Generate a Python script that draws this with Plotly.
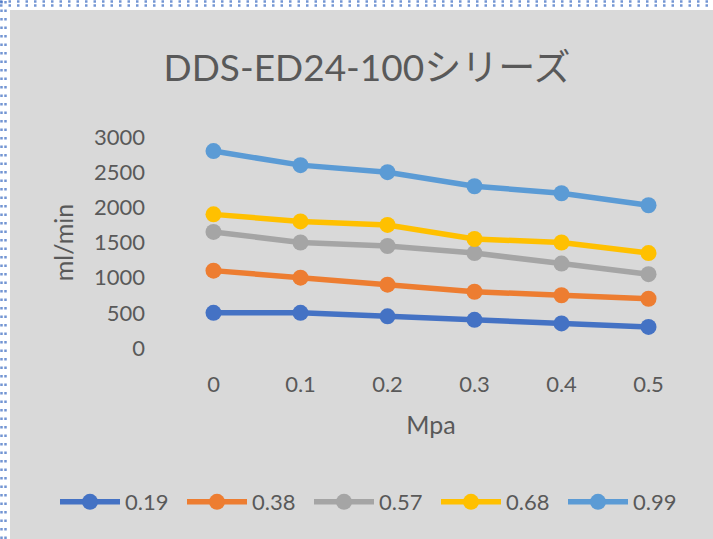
import plotly.graph_objects as go

pressure = ["0", "0.1", "0.2", "0.3", "0.4", "0.5"]
series_names = ["0.19", "0.38", "0.57", "0.68", "0.99"]
flow_019 = [500, 500, 450, 400, 350, 300]
flow_038 = [1100, 1000, 900, 800, 750, 700]
flow_057 = [1650, 1500, 1450, 1350, 1200, 1050]
flow_068 = [1900, 1800, 1750, 1550, 1500, 1350]
flow_099 = [2800, 2600, 2500, 2300, 2200, 2030]
colors = ["#4472C4", "#ED7D31", "#A5A5A5", "#FFC000", "#5B9BD5"]
y_ticks = [0, 500, 1000, 1500, 2000, 2500, 3000]

W, H = 713, 539
ML, MR, MT, MB = 170, 21, 137, 191

FONT = "Lato, 'Noto Sans CJK JP', sans-serif"
TXT = "#595959"
BG = "#D9D9D9"

fig = go.Figure()
for name, vals, c in zip(series_names, [flow_019, flow_038, flow_057, flow_068, flow_099], colors):
    fig.add_trace(go.Scatter(
        x=pressure, y=vals, name=name, mode="lines+markers",
        line=dict(color=c, width=5.5),
        marker=dict(color=c, size=16),
    ))

shapes = [
    dict(type="rect", xref="paper", yref="paper", xsizemode="pixel", ysizemode="pixel",
         xanchor=0, yanchor=0, x0=-(ML - 10), x1=W - ML + 5, y0=-(MB + 5), y1=H - MB - 10,
         fillcolor=BG, line=dict(width=0), layer="below"),
]
# dotted selection border (top and left)
for off in (1.5, 5.5):
    shapes.append(dict(type="line", xref="paper", yref="paper", xsizemode="pixel", ysizemode="pixel",
                       xanchor=0, yanchor=0, x0=-ML, x1=W - ML, y0=H - MB - off, y1=H - MB - off,
                       line=dict(color="rgba(68,114,196,0.75)", width=2.5, dash="2.5px,6px"), layer="below"))
    shapes.append(dict(type="line", xref="paper", yref="paper", xsizemode="pixel", ysizemode="pixel",
                       xanchor=0, yanchor=0, x0=-ML + off, x1=-ML + off, y0=-MB, y1=H - MB,
                       line=dict(color="rgba(68,114,196,0.75)", width=2.5, dash="2.5px,6px"), layer="below"))

fig.update_layout(
    width=W, height=H,
    margin=dict(l=ML, r=MR, t=MT, b=MB, pad=0, autoexpand=False),
    paper_bgcolor="white", plot_bgcolor=BG,
    font=dict(family=FONT, color=TXT, size=22),
    title=dict(text="DDS-ED24-100シリーズ", x=367 / W, xanchor="center", xref="container",
               y=1 - 68 / H, yanchor="middle", yref="container",
               font=dict(family=FONT, size=37, color=TXT)),
    shapes=shapes,
    showlegend=True,
    legend=dict(orientation="h", x=(55 - ML) / (W - ML - MR), xanchor="left",
                y=(H - MB - 502) / (H - MT - MB), yanchor="middle",
                bgcolor="rgba(0,0,0,0)", font=dict(size=22, color=TXT),
                entrywidth=52, entrywidthmode="pixels", itemwidth=60, traceorder="normal"),
)
fig.update_xaxes(type="category", range=[-0.5, 5.5], showgrid=False, zeroline=False, showline=False,
                 ticks="", ticklabelstandoff=21, tickfont=dict(size=22, color=TXT),
                 title=dict(text="Mpa", font=dict(size=25, color=TXT), standoff=20))
fig.update_yaxes(range=[0, 3000], tickvals=y_ticks, showgrid=False, zeroline=False, showline=False,
                 ticks="", ticklabelstandoff=24, tickfont=dict(size=22, color=TXT),
                 title=dict(text="ml/min", font=dict(size=25, color=TXT), standoff=13))

fig.write_html("out.html", config={"displayModeBar": False},
               post_script="document.body.style.margin='0';")
